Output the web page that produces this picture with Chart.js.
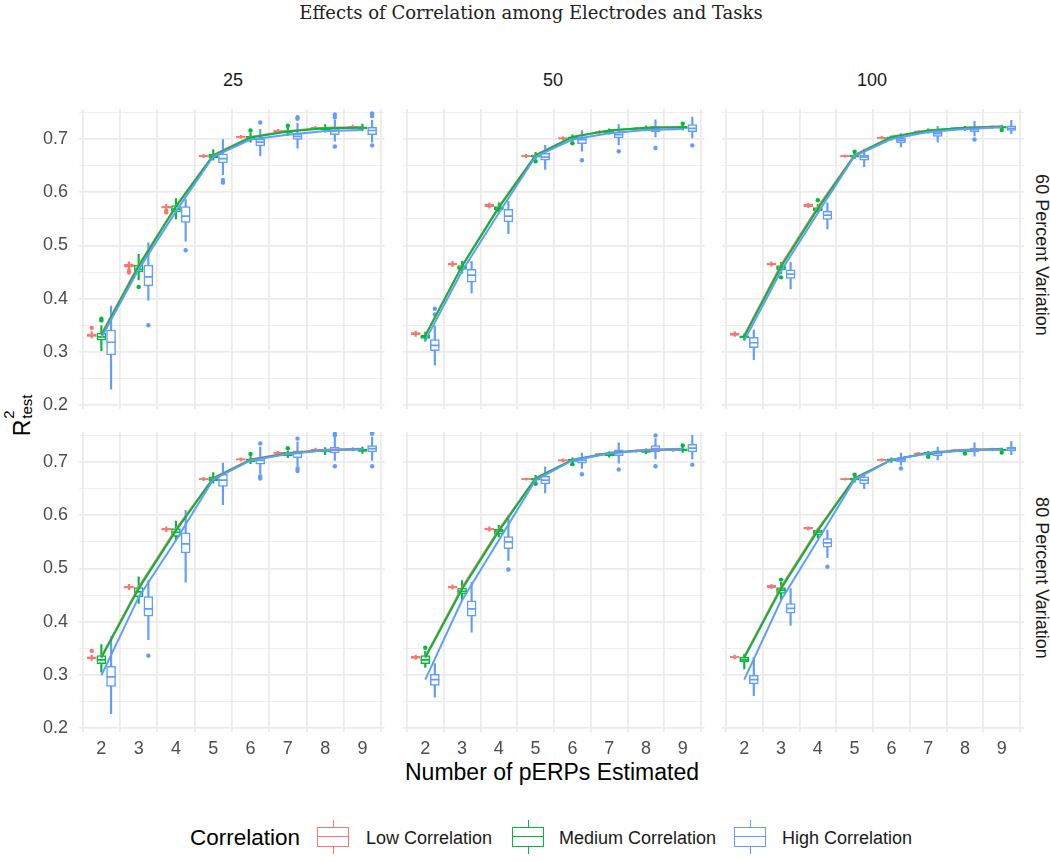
<!DOCTYPE html>
<html>
<head>
<meta charset="utf-8">
<script src="https://cdn.jsdelivr.net/npm/chart.js@4.4.1/dist/chart.umd.min.js"></script>
<style>
  body { margin: 0; background: #fff; width: 1050px; height: 862px; position: relative; overflow: hidden;
         font-family: "Liberation Sans", Arial, sans-serif; }
  canvas { position: absolute; }
  .t { position: absolute; white-space: nowrap; transform: translate(-50%, -50%); }
  .strip { font-size: 18px; color: #1a1a1a; }
  .key { position: absolute; width: 32px; height: 34px; }
  .key .w { position: absolute; left: 15.5px; top: 0; width: 1px; height: 34px; }
  .key .b { position: absolute; left: 0; top: 7px; width: 30px; height: 18px; border: 1px solid; background: #fff; }
  .key .m { position: absolute; left: 0; top: 16px; width: 32px; height: 1px; }
  .lt { position: absolute; font-size: 18px; color: #1a1a1a; transform: translateY(-50%); }
</style>
</head>
<body>
<div class="t" style="left:531px;top:12px;font-family:'DejaVu Serif',serif;font-size:18px;color:#222;">Effects of Correlation among Electrodes and Tasks</div>

<div id="strips"></div>

<div class="t" style="left:552px;top:772px;font-size:23px;color:#000;">Number of pERPs Estimated</div>
<div class="t" style="left:21px;top:413px;transform:translate(-50%,-50%) rotate(-90deg);font-size:23px;color:#000;">R<span style="position:relative;display:inline-block;width:30px;height:1em;"><span style="position:absolute;left:1px;top:-7px;font-size:15px;">2</span><span style="position:absolute;left:1px;top:11px;font-size:15px;">test</span></span></div>

<div id="legend"></div>

<script>
// ---- data ----
const X_TICKS = [2, 3, 4, 5, 6, 7, 8, 9];
const Y_TICKS = [0.2, 0.25, 0.3, 0.35, 0.4, 0.45, 0.5, 0.55, 0.6, 0.65, 0.7, 0.75];
const COL_LABELS = ['25', '50', '100'];
const ROW_LABELS = ['60 Percent Variation', '80 Percent Variation'];
const GROUPS = ['Low Correlation', 'Medium Correlation', 'High Correlation'];

// boxplot stats per x: [lower whisker, q1, median, q3, upper whisker]
// outliers: [x, value]
// ---- 60 percent variation, 25 ----
const box_60_25_low  = [[0.326,0.329,0.331,0.334,0.338],[0.455,0.459,0.462,0.465,0.469],[0.566,0.570,0.572,0.574,0.577],[0.665,0.667,0.668,0.669,0.671],[0.701,0.703,0.704,0.705,0.707],[0.712,0.714,0.715,0.716,0.718],[0.718,0.720,0.721,0.722,0.724],[0.720,0.722,0.723,0.724,0.726]];
const box_60_25_med  = [[0.302,0.322,0.328,0.335,0.349],[0.435,0.450,0.455,0.463,0.483],[0.550,0.563,0.568,0.575,0.588],[0.660,0.665,0.668,0.671,0.680],[0.694,0.699,0.702,0.705,0.711],[0.707,0.711,0.714,0.716,0.721],[0.713,0.717,0.720,0.722,0.727],[0.715,0.719,0.721,0.723,0.728]];
const box_60_25_high = [[0.230,0.294,0.318,0.341,0.386],[0.397,0.424,0.441,0.463,0.505],[0.508,0.543,0.555,0.573,0.586],[0.633,0.655,0.663,0.672,0.699],[0.668,0.687,0.694,0.700,0.718],[0.683,0.699,0.705,0.710,0.730],[0.696,0.708,0.716,0.720,0.736],[0.694,0.708,0.716,0.722,0.735]];
const out_60_25_low  = [[2,0.345],[3,0.452],[3,0.449],[4,0.565],[4,0.562]];
const out_60_25_med  = [[2,0.362],[2,0.359],[3,0.422],[6,0.716],[7,0.725]];
const out_60_25_high = [[3,0.350],[4,0.491],[5,0.623],[5,0.618],[6,0.731],[7,0.741],[7,0.738],[8,0.746],[8,0.741],[8,0.686],[9,0.748],[9,0.743],[9,0.688]];
const line_60_25_low  = [0.333,0.463,0.574,0.670,0.704,0.715,0.721,0.722];
const line_60_25_med  = [0.331,0.461,0.573,0.669,0.703,0.714,0.720,0.721];
const line_60_25_high = [0.327,0.455,0.564,0.667,0.699,0.708,0.715,0.717];

// ---- 60 percent variation, 50 ----
const box_60_50_low  = [[0.329,0.332,0.334,0.336,0.339],[0.460,0.463,0.465,0.467,0.470],[0.570,0.573,0.575,0.577,0.580],[0.665,0.667,0.668,0.669,0.671],[0.698,0.700,0.701,0.702,0.704],[0.710,0.712,0.713,0.714,0.716],[0.716,0.718,0.719,0.720,0.722],[0.718,0.720,0.721,0.722,0.724]];
const box_60_50_med  = [[0.320,0.325,0.328,0.331,0.337],[0.448,0.455,0.458,0.462,0.470],[0.560,0.567,0.570,0.573,0.580],[0.662,0.666,0.668,0.670,0.675],[0.697,0.700,0.702,0.704,0.708],[0.709,0.712,0.714,0.716,0.719],[0.715,0.718,0.720,0.722,0.725],[0.717,0.720,0.722,0.724,0.727]];
const box_60_50_high = [[0.275,0.302,0.312,0.323,0.349],[0.410,0.431,0.444,0.455,0.470],[0.522,0.544,0.555,0.568,0.583],[0.643,0.660,0.666,0.673,0.688],[0.677,0.691,0.699,0.703,0.716],[0.689,0.702,0.708,0.713,0.727],[0.704,0.714,0.719,0.724,0.736],[0.702,0.714,0.720,0.727,0.741]];
const out_60_50_low  = [];
const out_60_50_med  = [[5,0.658],[6,0.692],[9,0.729]];
const out_60_50_high = [[2,0.370],[2,0.381],[6,0.660],[7,0.677],[8,0.683],[9,0.688]];
const line_60_50_low  = [0.331,0.462,0.573,0.670,0.704,0.716,0.721,0.723];
const line_60_50_med  = [0.330,0.461,0.571,0.669,0.704,0.716,0.721,0.722];
const line_60_50_high = [0.321,0.452,0.561,0.667,0.699,0.711,0.717,0.719];

// ---- 60 percent variation, 100 ----
const box_60_100_low  = [[0.329,0.331,0.333,0.335,0.338],[0.461,0.463,0.465,0.467,0.469],[0.571,0.573,0.575,0.577,0.579],[0.666,0.667,0.668,0.669,0.670],[0.700,0.701,0.702,0.703,0.705],[0.711,0.713,0.714,0.715,0.716],[0.717,0.719,0.720,0.721,0.722],[0.720,0.722,0.723,0.724,0.725]];
const box_60_100_med  = [[0.322,0.326,0.328,0.330,0.334],[0.447,0.454,0.458,0.462,0.468],[0.560,0.565,0.568,0.571,0.577],[0.663,0.666,0.668,0.670,0.673],[0.698,0.700,0.702,0.704,0.706],[0.711,0.713,0.715,0.717,0.719],[0.716,0.718,0.720,0.722,0.724],[0.719,0.721,0.722,0.724,0.726]];
const box_60_100_high = [[0.285,0.308,0.317,0.327,0.341],[0.418,0.438,0.446,0.454,0.468],[0.531,0.549,0.557,0.564,0.580],[0.648,0.660,0.666,0.670,0.681],[0.685,0.693,0.698,0.702,0.710],[0.694,0.705,0.710,0.714,0.724],[0.706,0.714,0.718,0.720,0.733],[0.710,0.716,0.720,0.725,0.735]];
const out_60_100_low  = [];
const out_60_100_med  = [[3,0.440],[4,0.585],[5,0.676],[9,0.717]];
const out_60_100_high = [[8,0.699]];
const line_60_100_low  = [0.331,0.463,0.572,0.670,0.704,0.716,0.721,0.724];
const line_60_100_med  = [0.329,0.460,0.569,0.669,0.704,0.716,0.721,0.723];
const line_60_100_high = [0.321,0.452,0.561,0.668,0.700,0.713,0.719,0.722];

// ---- 80 percent variation, 25 ----
const box_80_25_low  = [[0.327,0.330,0.332,0.334,0.337],[0.460,0.463,0.465,0.467,0.470],[0.569,0.572,0.574,0.576,0.578],[0.665,0.667,0.668,0.669,0.671],[0.702,0.704,0.705,0.706,0.708],[0.714,0.716,0.717,0.718,0.720],[0.720,0.722,0.723,0.724,0.726],[0.721,0.723,0.724,0.725,0.727]];
const box_80_25_med  = [[0.305,0.321,0.328,0.336,0.357],[0.434,0.447,0.456,0.464,0.484],[0.553,0.560,0.568,0.575,0.589],[0.660,0.665,0.668,0.672,0.680],[0.697,0.700,0.703,0.706,0.710],[0.708,0.712,0.715,0.718,0.721],[0.714,0.719,0.721,0.723,0.727],[0.716,0.720,0.722,0.724,0.728]];
const box_80_25_high = [[0.227,0.278,0.296,0.316,0.372],[0.366,0.410,0.424,0.447,0.477],[0.474,0.529,0.546,0.567,0.609],[0.620,0.654,0.666,0.677,0.698],[0.677,0.696,0.703,0.708,0.728],[0.692,0.708,0.716,0.721,0.738],[0.703,0.717,0.723,0.728,0.747],[0.703,0.719,0.725,0.731,0.747]];
const out_80_25_low  = [[2,0.345]];
const out_80_25_med  = [[6,0.715],[7,0.726]];
const out_80_25_high = [[3,0.336],[6,0.735],[6,0.673],[6,0.669],[7,0.744],[7,0.688],[7,0.683],[8,0.753],[8,0.750],[8,0.692],[9,0.756],[9,0.753],[9,0.692]];
const line_80_25_low  = [0.334,0.465,0.574,0.670,0.705,0.717,0.723,0.725];
const line_80_25_med  = [0.332,0.462,0.571,0.669,0.704,0.716,0.722,0.724];
const line_80_25_high = [0.299,0.446,0.553,0.667,0.703,0.715,0.722,0.724];

// ---- 80 percent variation, 50 ----
const box_80_50_low  = [[0.329,0.331,0.333,0.335,0.337],[0.461,0.463,0.465,0.467,0.469],[0.570,0.572,0.574,0.576,0.578],[0.666,0.667,0.668,0.669,0.670],[0.700,0.702,0.703,0.704,0.706],[0.712,0.714,0.715,0.716,0.717],[0.718,0.720,0.721,0.722,0.723],[0.720,0.722,0.723,0.724,0.725]];
const box_80_50_med  = [[0.314,0.321,0.328,0.336,0.344],[0.441,0.452,0.457,0.463,0.477],[0.559,0.565,0.570,0.574,0.581],[0.662,0.666,0.668,0.670,0.675],[0.698,0.701,0.703,0.705,0.708],[0.709,0.712,0.714,0.716,0.719],[0.715,0.718,0.720,0.722,0.725],[0.718,0.721,0.723,0.725,0.728]];
const box_80_50_high = [[0.258,0.280,0.291,0.301,0.321],[0.380,0.410,0.424,0.439,0.474],[0.515,0.537,0.550,0.560,0.600],[0.642,0.659,0.666,0.673,0.691],[0.688,0.698,0.703,0.708,0.717],[0.698,0.712,0.718,0.723,0.736],[0.706,0.719,0.725,0.731,0.744],[0.706,0.719,0.726,0.733,0.750]];
const out_80_50_low  = [];
const out_80_50_med  = [[2,0.351],[5,0.659],[6,0.696],[9,0.731]];
const out_80_50_high = [[4,0.498],[6,0.677],[7,0.686],[8,0.750],[8,0.692],[9,0.695]];
const line_80_50_low  = [0.334,0.464,0.573,0.670,0.704,0.717,0.723,0.725];
const line_80_50_med  = [0.332,0.461,0.570,0.669,0.704,0.717,0.722,0.724];
const line_80_50_high = [0.291,0.440,0.553,0.666,0.703,0.716,0.722,0.724];

// ---- 80 percent variation, 100 ----
const box_80_100_low  = [[0.330,0.332,0.333,0.335,0.337],[0.462,0.464,0.466,0.468,0.470],[0.572,0.574,0.575,0.577,0.578],[0.666,0.667,0.668,0.669,0.670],[0.702,0.703,0.704,0.705,0.706],[0.713,0.715,0.716,0.717,0.718],[0.719,0.721,0.722,0.723,0.724],[0.722,0.723,0.724,0.725,0.726]];
const box_80_100_med  = [[0.311,0.324,0.328,0.333,0.339],[0.440,0.453,0.459,0.464,0.474],[0.557,0.563,0.568,0.572,0.575],[0.662,0.666,0.668,0.670,0.673],[0.699,0.702,0.704,0.706,0.708],[0.711,0.713,0.716,0.718,0.720],[0.716,0.719,0.721,0.722,0.724],[0.718,0.721,0.723,0.724,0.726]];
const box_80_100_high = [[0.261,0.283,0.291,0.299,0.333],[0.393,0.416,0.425,0.434,0.462],[0.520,0.540,0.548,0.556,0.572],[0.650,0.659,0.666,0.672,0.679],[0.694,0.700,0.704,0.708,0.717],[0.704,0.712,0.717,0.721,0.728],[0.711,0.719,0.723,0.726,0.736],[0.714,0.721,0.725,0.728,0.739]];
const out_80_100_low  = [];
const out_80_100_med  = [[3,0.479],[5,0.676],[7,0.710],[8,0.716],[9,0.718]];
const out_80_100_high = [[4,0.503],[6,0.688]];
const line_80_100_low  = [0.334,0.465,0.574,0.670,0.704,0.717,0.723,0.725];
const line_80_100_med  = [0.332,0.462,0.571,0.669,0.704,0.717,0.722,0.724];
const line_80_100_high = [0.291,0.440,0.553,0.667,0.704,0.716,0.722,0.723];

// ---- look ----
const COLORS = ['#F8766D', '#00BA38', '#619CFF'];
const DODGE = [-0.26, 0, 0.26];
const COL_LEFT = [79, 399, 718];
const ROW_TOP = [109, 432];
const PW = 308, PH = 300;
const GRID = '#EBEBEB';

Chart.defaults.font.family = '"Liberation Sans", Arial, sans-serif';

const PANELS = [
  { r: 0, c: 0, box: [box_60_25_low, box_60_25_med, box_60_25_high], out: [out_60_25_low, out_60_25_med, out_60_25_high], line: [line_60_25_low, line_60_25_med, line_60_25_high] },
  { r: 0, c: 1, box: [box_60_50_low, box_60_50_med, box_60_50_high], out: [out_60_50_low, out_60_50_med, out_60_50_high], line: [line_60_50_low, line_60_50_med, line_60_50_high] },
  { r: 0, c: 2, box: [box_60_100_low, box_60_100_med, box_60_100_high], out: [out_60_100_low, out_60_100_med, out_60_100_high], line: [line_60_100_low, line_60_100_med, line_60_100_high] },
  { r: 1, c: 0, box: [box_80_25_low, box_80_25_med, box_80_25_high], out: [out_80_25_low, out_80_25_med, out_80_25_high], line: [line_80_25_low, line_80_25_med, line_80_25_high] },
  { r: 1, c: 1, box: [box_80_50_low, box_80_50_med, box_80_50_high], out: [out_80_50_low, out_80_50_med, out_80_50_high], line: [line_80_50_low, line_80_50_med, line_80_50_high] },
  { r: 1, c: 2, box: [box_80_100_low, box_80_100_med, box_80_100_high], out: [out_80_100_low, out_80_100_med, out_80_100_high], line: [line_80_100_low, line_80_100_med, line_80_100_high] }
];

function panelDatasets(p) {
  const ds = [];
  GROUPS.forEach((name, g) => {
    const col = COLORS[g];
    const stats = p.box[g];
    const xs = X_TICKS.map(x => x + DODGE[g]);
    // lines connecting the groups (blue on top)
    ds.push({ type: 'line', label: name, order: 12 - g,
      data: X_TICKS.map((x, i) => ({ x, y: p.line[g][i] })),
      borderColor: col, borderWidth: 2, pointRadius: 0, tension: 0, fill: false });
    // outliers
    ds.push({ type: 'line', showLine: false, order: 20,
      data: p.out[g].map(o => ({ x: o[0] + DODGE[g], y: o[1] })),
      pointRadius: 2.2, pointBackgroundColor: col, pointBorderWidth: 0 });
    // medians
    ds.push({ type: 'line', showLine: false, order: 30,
      data: xs.map((x, i) => ({ x, y: stats[i][2] })),
      pointStyle: 'line', pointRadius: 4.5, pointBorderColor: col, pointBorderWidth: 1.7 });
    // boxes
    ds.push({ type: 'bar', grouped: false, order: 40,
      data: xs.map((x, i) => ({ x, y: [stats[i][1], stats[i][3]] })),
      barThickness: 9, backgroundColor: '#fff', borderColor: col, borderWidth: 1.5, borderSkipped: false });
    // whiskers
    ds.push({ type: 'bar', grouped: false, order: 50,
      data: xs.map((x, i) => ({ x, y: [stats[i][0], stats[i][4]] })),
      barThickness: 1.5, backgroundColor: col, borderWidth: 0 });
  });
  return ds;
}

PANELS.forEach(p => {
  // generous top/bottom room so tick-label padding never squeezes the plot area
  const padL = p.c === 0 ? 60 : 2;
  const padT = 26, padR = 4;
  const padB = p.r === 1 ? 36 : 26;
  const cv = document.createElement('canvas');
  cv.width = padL + PW + padR;
  cv.height = padT + PH + padB;
  cv.style.left = (COL_LEFT[p.c] - padL) + 'px';
  cv.style.top = (ROW_TOP[p.r] - padT) + 'px';
  document.body.appendChild(cv);

  new Chart(cv, {
    type: 'line',
    data: { datasets: panelDatasets(p) },
    options: {
      responsive: false, animation: false, devicePixelRatio: 1, events: [],
      layout: { padding: { top: padT, right: padR, left: 0, bottom: 0 } },
      plugins: { legend: { display: false }, tooltip: { enabled: false } },
      scales: {
        x: {
          type: 'linear', min: 1.4, max: 9.6, offset: false,
          afterBuildTicks: s => { s.ticks = X_TICKS.map(v => ({ value: v })); },
          afterFit: s => { s.height = padB; },
          border: { display: false },
          grid: { color: GRID, lineWidth: 1.8, drawTicks: false },
          ticks: { display: p.r === 1, color: '#4D4D4D', font: { size: 18 }, padding: 6,
                   callback: v => String(v) }
        },
        y: {
          type: 'linear', min: 0.1925, max: 0.7564,
          afterBuildTicks: s => { s.ticks = Y_TICKS.map(v => ({ value: v })); },
          afterFit: s => { s.width = padL; },
          border: { display: false },
          grid: { color: GRID, drawTicks: false,
                  lineWidth: ctx => (Math.round(ctx.tick.value * 20) % 2 === 0 ? 1.8 : 0.9) },
          ticks: { display: p.c === 0, color: '#4D4D4D', font: { size: 18 }, padding: 11,
                   callback: v => (Math.round(v * 20) % 2 === 0 ? v.toFixed(1) : '') }
        }
      }
    }
  });
});

// strip labels
const strips = document.getElementById('strips');
COL_LABELS.forEach((t, c) => {
  const d = document.createElement('div');
  d.className = 't strip';
  d.style.left = (COL_LEFT[c] + PW / 2) + 'px';
  d.style.top = '80px';
  d.textContent = t;
  strips.appendChild(d);
});
ROW_LABELS.forEach((t, r) => {
  const d = document.createElement('div');
  d.className = 't strip';
  d.style.left = '1041px';
  d.style.top = (ROW_TOP[r] + PH / 2 - 4) + 'px';
  d.style.transform = 'translate(-50%,-50%) rotate(90deg)';
  d.textContent = t;
  strips.appendChild(d);
});

// legend
const legend = document.getElementById('legend');
const lt = document.createElement('div');
lt.className = 'lt';
lt.style.cssText = 'left:190px;top:838px;font-size:22.5px;color:#000;';
lt.textContent = 'Correlation';
legend.appendChild(lt);
const KEY_X = [317, 512, 734];
const TXT_X = [366, 559, 782];
GROUPS.forEach((name, g) => {
  const k = document.createElement('div');
  k.className = 'key';
  k.style.left = KEY_X[g] + 'px';
  k.style.top = '820px';
  k.innerHTML = `<div class="w" style="background:${COLORS[g]}"></div>` +
                `<div class="b" style="border-color:${COLORS[g]}"></div>` +
                `<div class="m" style="background:${COLORS[g]}"></div>`;
  legend.appendChild(k);
  const t = document.createElement('div');
  t.className = 'lt';
  t.style.left = TXT_X[g] + 'px';
  t.style.top = '838px';
  t.textContent = name;
  legend.appendChild(t);
});
</script>
</body>
</html>
